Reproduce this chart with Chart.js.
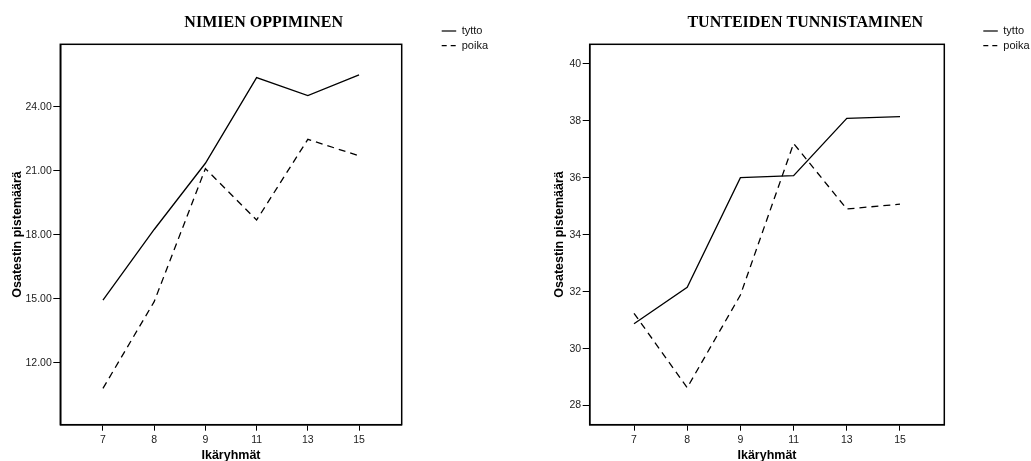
<!DOCTYPE html>
<html>
<head>
<meta charset="utf-8">
<script src="https://cdn.jsdelivr.net/npm/chart.js@4.4.1/dist/chart.umd.min.js"></script>
<style>
  html, body { margin: 0; padding: 0; background: #fff; overflow: hidden; }
  #wrap { position: relative; width: 1031px; height: 461px; overflow: hidden; }
  .box { position: absolute; top: 0; height: 470px; }
</style>
</head>
<body>
<div id="wrap">
  <div class="box" style="left:0;width:520px"><canvas id="nimet"></canvas></div>
  <div class="box" style="left:520px;width:511px"><canvas id="tunteet"></canvas></div>
</div>
<script>
// age groups on the x axis
const ageGroups = ['7', '8', '9', '11', '13', '15'];
const seriesNames = ['tytto', 'poika'];

// NIMIEN OPPIMINEN
const namesGirls = [14.94, 18.25, 21.35, 25.36, 24.52, 25.49];
const namesBoys = [10.81, 14.87, 21.1, 18.69, 22.47, 21.7];
const namesTicks = [12, 15, 18, 21, 24];

// TUNTEIDEN TUNNISTAMINEN
const emoGirls = [30.87, 32.15, 36.0, 36.07, 38.08, 38.14];
const emoBoys = [31.24, 28.63, 31.88, 37.2, 34.9, 35.07];
const emoTicks = [28, 30, 32, 34, 36, 38, 40];

const SANS = '"Liberation Sans", Arial, sans-serif';
const CANVAS_H = 470;

// frame around the plot, chart title and the small legend top right
const framePlugin = {
    id: 'framePlugin',
    afterDraw(chart, args, opts) {
        const { ctx, chartArea: a } = chart;
        ctx.save();
        ctx.strokeStyle = '#000';
        ctx.lineWidth = 1.5;
        ctx.setLineDash([]);
        ctx.strokeRect(a.left, a.top, a.width, a.height);

        ctx.font = 'bold 16px "Liberation Serif", "Times New Roman", serif';
        ctx.fillStyle = '#000';
        ctx.textAlign = 'center';
        ctx.textBaseline = 'alphabetic';
        ctx.fillText(opts.title, opts.titleX, 27.3);

        ctx.font = '11px ' + SANS;
        ctx.textAlign = 'left';
        ctx.textBaseline = 'middle';
        chart.data.datasets.forEach((ds, i) => {
            const y = 31 + i * 14.7;
            ctx.beginPath();
            ctx.lineWidth = 1.2;
            ctx.setLineDash(ds.legendDash || []);
            ctx.moveTo(opts.legendX, y);
            ctx.lineTo(opts.legendX + 14.5, y);
            ctx.stroke();
            ctx.setLineDash([]);
            ctx.fillStyle = '#111';
            ctx.fillText(ds.label, opts.legendX + 20, y);
        });
        ctx.restore();
    }
};

function makeChart(id, girls, boys, yTicks, yMin, yMax, decimals, g) {
    const toPoints = arr => arr.map((v, i) => ({ x: i, y: v }));
    return new Chart(document.getElementById(id), {
        type: 'line',
        data: {
            datasets: [{
                label: seriesNames[0],
                data: toPoints(girls),
                borderColor: '#000',
                borderWidth: 1.3,
                pointRadius: 0,
                tension: 0
            }, {
                label: seriesNames[1],
                data: toPoints(boys),
                borderColor: '#000',
                borderWidth: 1.3,
                borderDash: [7, 5],
                legendDash: [5, 4],
                pointRadius: 0,
                tension: 0
            }]
        },
        options: {
            responsive: true,
            maintainAspectRatio: false,
            animation: false,
            layout: { padding: { top: g.top, right: g.canvasW - g.right, left: 0, bottom: 0 } },
            plugins: {
                legend: { display: false },
                title: { display: false },
                tooltip: { enabled: false },
                framePlugin: { title: g.title, titleX: g.titleX, legendX: g.legendX }
            },
            scales: {
                x: {
                    type: 'linear',
                    min: -0.833,
                    max: 5.833,
                    afterBuildTicks: s => { s.ticks = ageGroups.map((_, i) => ({ value: i })); },
                    afterFit: s => { s.height = CANVAS_H - g.bottom; },
                    grid: { drawOnChartArea: false, drawTicks: true, tickLength: 6, color: '#000', tickWidth: 1 },
                    border: { color: '#000', width: 1.5 },
                    ticks: {
                        autoSkip: false, maxRotation: 0, padding: 3, color: '#222',
                        font: { family: SANS, size: 10.5 },
                        callback: v => ageGroups[v]
                    },
                    title: {
                        display: true, text: 'Ikäryhmät', color: '#000',
                        font: { family: SANS, size: 12.5, weight: 'bold' },
                        padding: { top: 0, bottom: 7.2 }
                    }
                },
                y: {
                    min: yMin,
                    max: yMax,
                    afterBuildTicks: s => { s.ticks = yTicks.map(v => ({ value: v })); },
                    afterFit: s => { s.width = g.left; },
                    grid: { drawOnChartArea: false, drawTicks: true, tickLength: 7, color: '#000', tickWidth: 1 },
                    border: { color: '#000', width: 1.5 },
                    ticks: {
                        padding: 1.5, color: '#222',
                        font: { family: SANS, size: 10.5 },
                        callback: v => Number(v).toFixed(decimals)
                    },
                    title: {
                        display: true, text: 'Osatestin pistemäärä', color: '#000',
                        font: { family: SANS, size: 12.5, weight: 'bold' },
                        padding: { top: g.yTitlePad, bottom: 0 }
                    }
                }
            }
        },
        plugins: [framePlugin]
    });
}

makeChart('nimet', namesGirls, namesBoys, namesTicks, 9.11, 26.92, 2, {
    canvasW: 520, left: 60.3, right: 401.7, top: 44.3, bottom: 424.7,
    title: 'NIMIEN OPPIMINEN', titleX: 263.7, legendX: 441.7, yTitlePad: 10.5
});

makeChart('tunteet', emoGirls, emoBoys, emoTicks, 27.33, 40.68, 0, {
    canvasW: 511, left: 69.7, right: 424.3, top: 44.3, bottom: 424.7,
    title: 'TUNTEIDEN TUNNISTAMINEN', titleX: 285.3, legendX: 463.3, yTitlePad: 32.5
});
</script>
</body>
</html>
